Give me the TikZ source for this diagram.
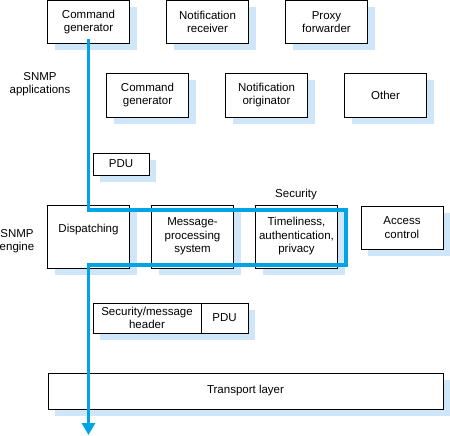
\documentclass[tikz,border=0pt]{standalone}
\usepackage{fontspec}
\setmainfont{Liberation Sans}
\usepackage{tikz}
\usetikzlibrary{positioning,shadows,arrows.meta}
\usepackage{xcolor}

\definecolor{flowblue}{RGB}{0,163,228}
\definecolor{shadeblue}{RGB}{206,230,248}

\begin{document}
\begin{tikzpicture}[x=1pt,y=-1pt,node distance=37pt,
    every node/.style={font=\fontsize{11.5}{13.5}\selectfont}]
    \tikzstyle{block} = [rectangle, draw, fill=white, line width=0.7pt,
               minimum width=82pt, minimum height=44pt, inner sep=1pt,
               outer sep=0pt, align=center,
               general shadow={fill=shadeblue, shadow xshift=7pt, shadow yshift=-7pt}]
    \tikzstyle{layername} = [align=center, inner sep=0pt]
    \tikzstyle{flow} = [draw=flowblue, line width=3.5pt,
               -{Triangle[width=13pt,length=12pt]}]

    \useasboundingbox (0,0) rectangle (450,436);

    % Applications
    \node[block, minimum height=43pt] (cmdgenA) at (88.5,22) {Command\\generator};
    \node[block, minimum height=43pt, right=of cmdgenA] (notrecv) {Notification\\receiver};
    \node[block, minimum height=43pt, right=of notrecv] (proxy) {Proxy\\forwarder};

    \node[block] (cmdgenB) at (147.5,95) {Command\\generator};
    \node[block, right=of cmdgenB] (notorig) {Notification\\originator};
    \node[block, right=of notorig] (other) {Other};

    \node[layername] (apps) at (40,84) {SNMP\\applications};

    \node[block, minimum width=56pt, minimum height=22pt] (pduA) at (121,164) {PDU};

    % Engine
    \node (secname) at (296,195) {Security};
    \node[layername] (engine) at (17,241) {SNMP\\engine};

    \node[block, minimum height=63pt, text depth=17pt] (dispatch) at (88.5,236.5) {Dispatching};
    \node[block, minimum height=63pt, right=22pt of dispatch] (msgproc) {Message-\\processing\\system};
    \node[block, minimum height=63pt, right=22pt of msgproc] (timely) {Timeliness,\\authentication,\\privacy};
    \node[block, minimum height=43pt] (access) at (402,227.5) {Access\\control};

    % Message on the wire
    \node[block, minimum width=108pt, minimum height=30pt] (sechdr) at (147,318) {Security/message\\header};
    \node[block, minimum width=47pt, minimum height=30pt, right=0pt of sechdr] (pduB) {PDU};

    \node[block, minimum width=395pt, minimum height=36pt] (transport) at (245.5,391) {Transport layer};

    % Draw the path of the request
    \coordinate (looptop) at (346,210);
    \coordinate (loopbot) at (346,265);
    \coordinate (sink) at (88.5,435);
    \draw[flow] ([yshift=4pt]cmdgenA.south) |- (looptop) -- (loopbot) -| (sink);

\end{tikzpicture}
\end{document}
